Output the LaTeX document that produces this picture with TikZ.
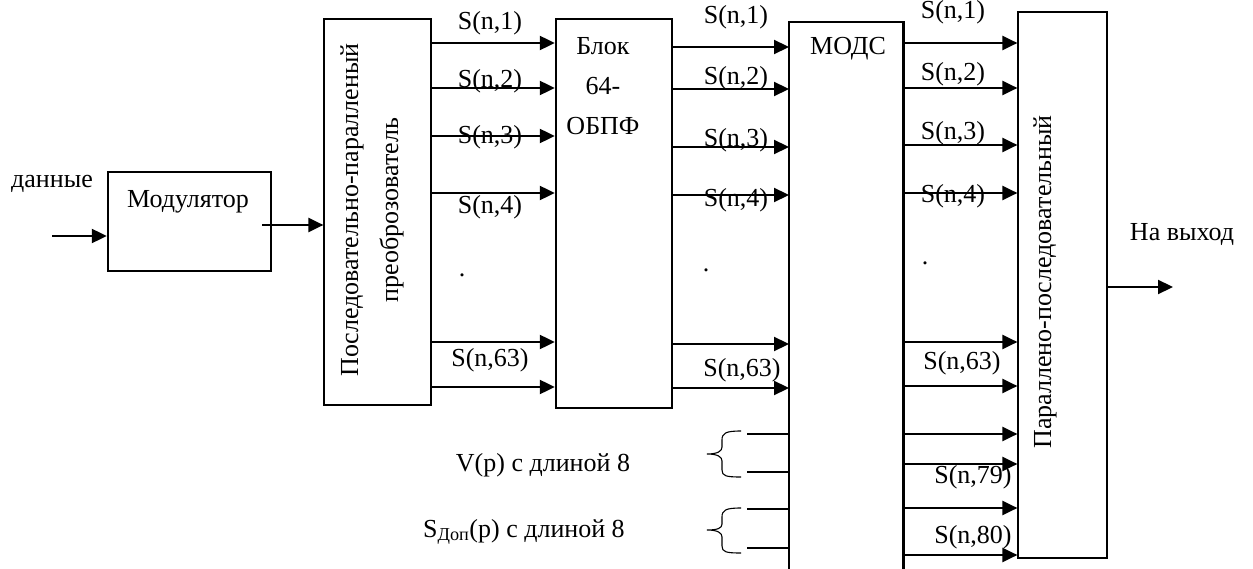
\documentclass[tikz,border=0pt]{standalone}
\usepackage{fontspec}
\setmainfont{Liberation Serif}
\usetikzlibrary{arrows.meta}
\begin{document}
\begin{tikzpicture}[x=1pt,y=-1pt,
  font=\fontsize{26}{40}\selectfont,
  arr/.style={line width=2.2pt,-{Triangle[length=15pt,width=14pt]}},
  plainline/.style={line width=2.2pt},
  thickbox/.style={draw,line width=2.4pt,inner sep=0pt},
  thinbox/.style={draw,line width=1.2pt,inner sep=0pt},
  lbl/.style={inner sep=0pt},
  bracepath/.style={line width=1.1pt}]
\useasboundingbox (0,0) rectangle (1253,569);

% Modulator
\node[thickbox,minimum width=163,minimum height=99] (mod) at (189.5,221.5) {};
\node[lbl] (modt) at (188,202) {Модулятор};
\node[lbl] (data) at (52,184) {данные};
\coordinate (in) at (52,236);
\coordinate (modout) at (262,225);

% serial-parallel converter
\node[thinbox,minimum width=107,minimum height=386] (sp) at (377.5,212) {};
\node[lbl,rotate=90,align=center] (spt) at (372,210) {Последовательно-паралленый\\преоброзователь};

% IFFT block
\node[thickbox,minimum width=116,minimum height=389] (blok) at (614,213.5) {};
\node[lbl,align=center] (blokt) at (603,86) {Блок\\64-\\ОБПФ};

% MODS (open at the bottom)
\node[inner sep=0pt,minimum width=114,minimum height=550,anchor=north west] (mods) at (789,22) {};
\draw[line width=2.4pt] (mods.south west) -- (mods.north west) -- (mods.north east) -- (mods.south east);
\node[lbl] (modst) at (848,49) {МОДС};

% parallel-serial converter
\node[thinbox,minimum width=89,minimum height=546] (pp) at (1062.5,285) {};
\node[lbl,rotate=90] (ppt) at (1045,282) {Параллено-последовательный};
\node[lbl] (outt) at (1182,235) {На выход};
\coordinate (out) at (1173,287);

% connectors
\draw[arr] (in) -- (mod.west |- in);
\draw[arr] (modout) -- (sp.west |- modout);
\draw[arr] (pp.east |- out) -- (out);
\foreach \y in {43,88,136,193,342,387}
  \draw[arr] (sp.east |- 0,\y) -- (blok.west |- 0,\y);
\foreach \y in {47,89,147,195,344,388}
  \draw[arr] (blok.east |- 0,\y) -- (mods.west |- 0,\y);
\foreach \y in {43,88,145,193,342,386,434,464,508,555}
  \draw[arr] (mods.east |- 0,\y) -- (pp.west |- 0,\y);
\foreach \y [count=\i] in {434,472,509,548}{
  \coordinate (b\i) at (747,\y);
  \draw[plainline] (b\i) -- (mods.west |- b\i);
}

% braces
\draw[bracepath] (741,431) .. controls (726,431) and (722,433) .. (722,440) -- (722,447)
  .. controls (722,451) and (718,454) .. (707,454)
  .. controls (718,454) and (722,457) .. (722,461) -- (722,470)
  .. controls (722,476) and (726,477) .. (741,477);
\draw[bracepath] (741,508) .. controls (726,508) and (722,510) .. (722,517) -- (722,524)
  .. controls (722,528) and (718,530) .. (707,530)
  .. controls (718,530) and (722,533) .. (722,537) -- (722,546)
  .. controls (722,552) and (726,553) .. (741,553);

\node[lbl] (vlab) at (543,465) {V(p) с длиной 8};
\node[lbl] (slab) at (524,532) {S\textsubscript{Доп}(p) с длиной 8};

% labels column A
\node[lbl] (a1) at (490,23) {S(n,1)};
\node[lbl] (a2) at (490,81) {S(n,2)};
\node[lbl] (a3) at (490,137) {S(n,3)};
\node[lbl] (a4) at (490,207) {S(n,4)};
\node[lbl,anchor=base] (ad) at (462,277) {.};
\node[lbl] (a63) at (490,360) {S(n,63)};
% labels column B
\node[lbl] (b1l) at (736,17) {S(n,1)};
\node[lbl] (b2l) at (736,78) {S(n,2)};
\node[lbl] (b3l) at (736,140) {S(n,3)};
\node[lbl] (b4l) at (736,200) {S(n,4)};
\node[lbl,anchor=base] (bd) at (706,272) {.};
\node[lbl] (b63) at (742,370) {S(n,63)};
% labels column C
\node[lbl] (c1) at (953,12) {S(n,1)};
\node[lbl] (c2) at (953,74) {S(n,2)};
\node[lbl] (c3) at (953,133) {S(n,3)};
\node[lbl] (c4) at (953,196) {S(n,4)};
\node[lbl,anchor=base] (cd) at (925,265) {.};
\node[lbl] (c63) at (962,363) {S(n,63)};
\node[lbl] (c79) at (973,477) {S(n,79)};
\node[lbl] (c80) at (973,537) {S(n,80)};
\end{tikzpicture}
\end{document}
